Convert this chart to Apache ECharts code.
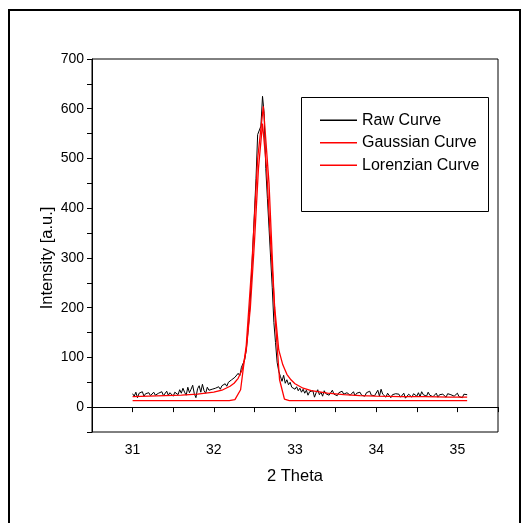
<!DOCTYPE html>
<html>
<head>
	<meta charset="utf-8">
	<title>XRD peak fit</title>
	<style>
		html, body {
			margin: 0;
			padding: 0;
			background: #fff;
		}
		#main {
			width: 522px;
			height: 523px;
		}
	</style>
</head>
<body>
	<div id="main"></div>
</body>
<script type="text/javascript" src="https://cdn.jsdelivr.net/npm/echarts@6/dist/echarts.min.js"></script>
<script type="text/javascript">
	// raw scan, one reading every 0.02 deg from 31.00
	var rawStart = 31.0;
	var rawStep = 0.02;
	var rawY = [
		27, 22, 30, 19, 28, 25, 31, 22, 27, 24,
		29, 23, 26, 30, 24, 22, 28, 25, 31, 23,
		27, 32, 24, 29, 26, 22, 30, 33, 25, 35,
		28, 38, 30, 24, 40, 29, 36, 44, 27, 19,
		37, 43, 30, 46, 33, 28, 40, 34, 30, 36,
		33, 38, 35, 41, 36, 43, 39, 47, 42, 50,
		46, 55, 52, 60, 57, 68, 63, 80, 76, 95,
		115, 150, 190, 250, 320, 390, 460, 548, 550, 565,
		625, 590, 480, 420, 360, 300, 240, 170, 130, 90,
		72, 62, 52, 64, 48, 55, 45, 50, 40, 44,
		36, 41, 33, 38, 30, 36, 28, 34, 24, 31,
		27, 33, 20, 29, 35, 25, 30, 22, 33, 27,
		31, 24, 28, 34, 26, 30, 23, 29, 25, 32,
		26, 22, 29, 33, 24, 27, 31, 23, 28, 25,
		30, 24, 27, 22, 29, 26, 32, 24, 28, 23,
		27, 34, 22, 36, 26, 30, 20, 28, 24, 19,
		25, 21, 27, 23, 26, 20, 24, 28, 18, 22,
		26, 23, 20, 27, 24, 22, 29, 21, 31, 25,
		27, 22, 30, 24, 26, 21, 23, 28, 20, 25,
		22, 26, 24, 20, 27, 23, 25, 29, 22, 26,
		28, 21, 24, 19, 26, 22, 25
	];

	var gaussX = [31.0, 32.19, 32.26, 32.33, 32.40, 32.47, 32.54, 32.61, 32.68, 32.75, 32.81, 32.87, 32.93, 35.12];
	var gaussY = [13, 13, 15, 35, 125, 290, 500, 605, 450, 190, 55, 16, 13, 13];

	var lorX = [31.0, 31.2, 31.4, 31.6, 31.8, 32.0, 32.1, 32.2, 32.25, 32.3, 32.35, 32.4, 32.45, 32.5, 32.55, 32.6,
		32.65, 32.7, 32.75, 32.8, 32.85, 32.9, 32.95, 33.0, 33.1, 33.2, 33.4, 33.6, 33.8, 34.0, 34.3, 34.6, 34.9, 35.12];
	var lorY = [21, 22, 23, 24, 26, 30, 34, 42, 48, 58, 75, 115, 200, 330, 480, 570,
		480, 330, 200, 115, 85, 66, 55, 47, 38, 33, 28, 25, 23, 22, 21, 21, 20, 20];

	var seriesNames = ['Raw Curve', 'Gaussian Curve', 'Lorenzian Curve'];

	function pairs(xs, ys) {
		var out = [];
		for (var i = 0; i < xs.length; i++) {
			out.push([xs[i], ys[i]]);
		}
		return out;
	}

	var rawData = [];
	for (var i = 0; i < rawY.length; i++) {
		rawData.push([+(rawStart + i * rawStep).toFixed(2), rawY[i]]);
	}

	var font = 'Arial, "Liberation Sans", sans-serif';

	var option = {
		backgroundColor: '#fff',
		animation: false,
		grid: {
			left: 92,
			top: 59,
			right: 24,
			bottom: 91,
			show: true,
			borderColor: '#000',
			borderWidth: 1
		},
		legend: {
			data: seriesNames,
			orient: 'vertical',
			left: 320,
			top: 109,
			padding: 0,
			icon: 'rect',
			itemWidth: 37,
			itemHeight: 1.3,
			itemGap: 0,
			textStyle: {
				color: '#000',
				fontFamily: font,
				fontSize: 16,
				lineHeight: 22.5
			}
		},
		xAxis: {
			type: 'value',
			min: 30.5,
			max: 35.5,
			interval: 0.5,
			name: '2 Theta',
			nameLocation: 'middle',
			nameGap: 36,
			nameTextStyle: {
				color: '#000',
				fontFamily: font,
				fontSize: 16.5
			},
			axisLine: {
				lineStyle: {
					color: '#000',
					width: 1
				}
			},
			axisTick: {
				inside: false,
				length: 5,
				lineStyle: {
					color: '#000'
				}
			},
			axisLabel: {
				margin: 11,
				color: '#000',
				fontFamily: font,
				fontSize: 14,
				formatter: function(v) {
					return Math.abs(v - Math.round(v)) < 1e-6 ? String(Math.round(v)) : '';
				}
			},
			splitLine: {
				show: false
			}
		},
		yAxis: {
			type: 'value',
			min: -50,
			max: 700,
			interval: 50,
			axisLine: {
				show: true,
				lineStyle: {
					color: '#000',
					width: 1
				}
			},
			axisTick: {
				show: true,
				inside: false,
				length: 5,
				lineStyle: {
					color: '#000'
				}
			},
			axisLabel: {
				margin: 8,
				color: '#000',
				fontFamily: font,
				fontSize: 14,
				formatter: function(v) {
					return (v >= 0 && v % 100 === 0) ? String(v) : '';
				}
			},
			splitLine: {
				show: false
			}
		},
		graphic: [{
			// outer frame
			type: 'rect',
			shape: { x: 9, y: 10, width: 511, height: 530 },
			style: { fill: 'none', stroke: '#000', lineWidth: 2 },
			silent: true
		}, {
			// legend box
			type: 'rect',
			shape: { x: 301.5, y: 97.5, width: 187, height: 114 },
			style: { fill: 'none', stroke: '#000', lineWidth: 1 },
			silent: true
		}, {
			type: 'text',
			x: 47,
			y: 258,
			rotation: Math.PI / 2,
			style: {
				text: 'Intensity [a.u.]',
				fill: '#000',
				font: '16.5px ' + font,
				align: 'center',
				verticalAlign: 'middle'
			}
		}],
		series: [{
			name: seriesNames[0],
			type: 'line',
			symbol: 'none',
			data: rawData,
			lineStyle: { color: '#000', width: 1 },
			itemStyle: { color: '#000' }
		}, {
			name: seriesNames[1],
			type: 'line',
			symbol: 'none',
			data: pairs(gaussX, gaussY),
			lineStyle: { color: '#ff0000', width: 1.3 },
			itemStyle: { color: '#ff0000' }
		}, {
			name: seriesNames[2],
			type: 'line',
			symbol: 'none',
			data: pairs(lorX, lorY),
			lineStyle: { color: '#ff0000', width: 1.3 },
			itemStyle: { color: '#ff0000' }
		}]
	};

	var myChart = echarts.init(document.getElementById('main'));
	myChart.setOption(option);
</script>
</html>
